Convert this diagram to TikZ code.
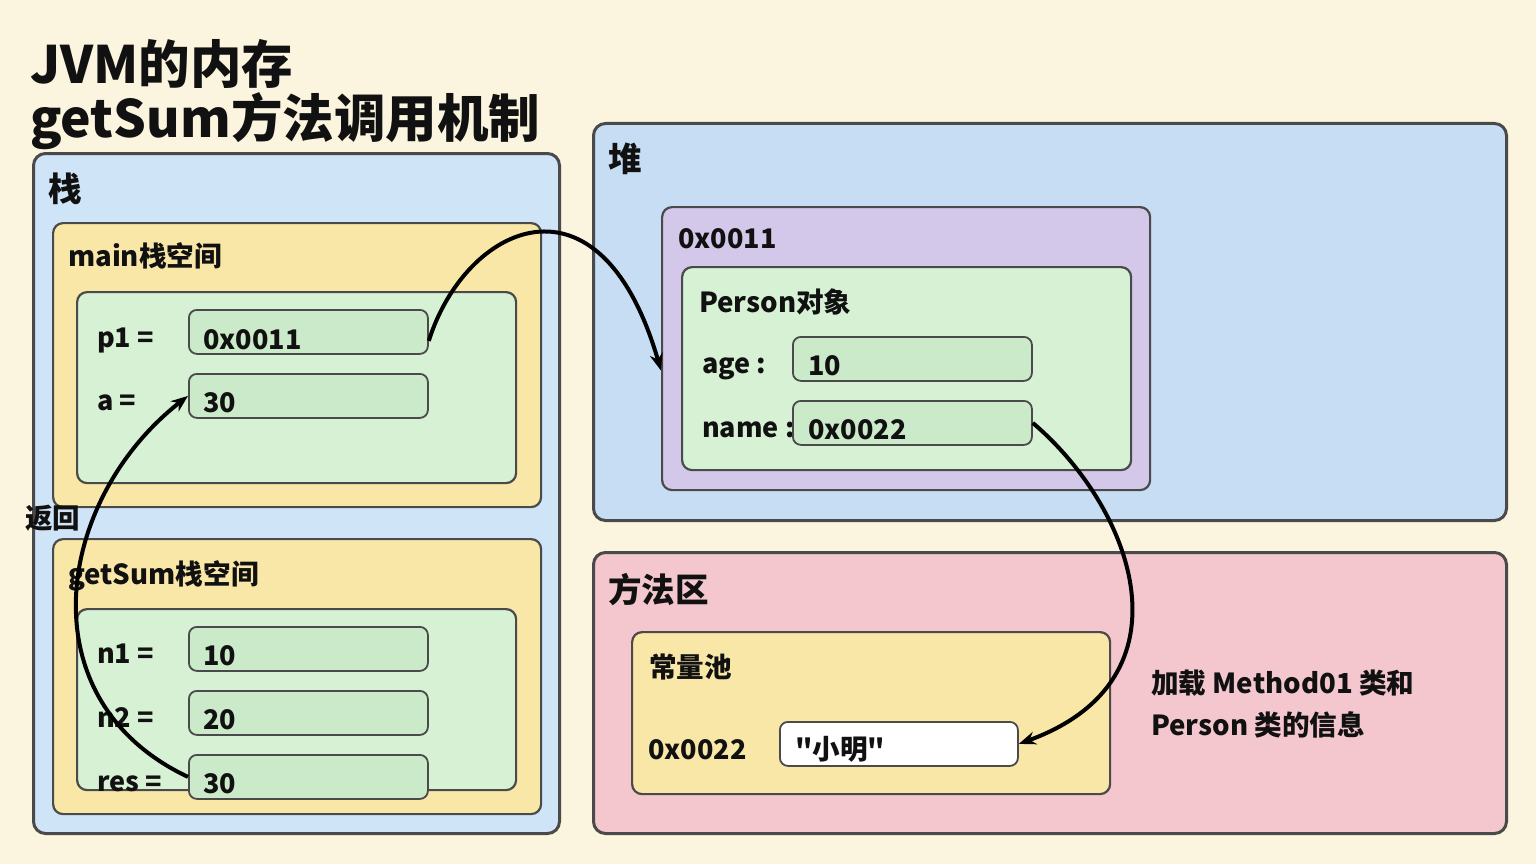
\documentclass[tikz,border=0pt]{standalone}
\usepackage{fontspec}
\setmainfont{Noto Sans CJK SC}[Ligatures=TeXOff]
\usetikzlibrary{arrows.meta}
\definecolor{bgc}{HTML}{FBF4DE}
\definecolor{linec}{HTML}{4A4A4A}
\definecolor{stackc}{HTML}{CFE4F7}
\definecolor{heapc}{HTML}{C6DDF4}
\definecolor{yelc}{HTML}{F9E7A8}
\definecolor{grnc}{HTML}{D7F1D4}
\definecolor{fldc}{HTML}{CBEACA}
\definecolor{purc}{HTML}{D4C8EA}
\definecolor{pinkc}{HTML}{F4C7CF}
\definecolor{txtc}{HTML}{111111}
\newcommand{\fsz}[1]{\fontsize{#1}{#1}\selectfont\bfseries}
\tikzset{
  x=1pt,y=-1pt,
  panel/.style={draw=linec, line width=3pt, rounded corners=12pt, anchor=north west, inner sep=0pt},
  sub/.style={draw=linec, line width=2.2pt, rounded corners=10pt, anchor=north west, inner sep=0pt},
  fld/.style={draw=linec, line width=1.8pt, rounded corners=8pt, anchor=north west, inner sep=0pt, fill=fldc, minimum width=239pt, minimum height=44pt},
  lbl/.style={anchor=base west, inner sep=0pt, text=txtc, font=\fsz{27}},
  clbl/.style={anchor=base west, inner sep=0pt, text=txtc, font=\fsz{27.6}},
  big/.style={anchor=base west, inner sep=0pt, text=txtc, font=\fsz{33.5}},
  conn/.style={line width=4pt, draw=black, -{Stealth[length=17pt,width=13pt]}}
}
\begin{document}
\begin{tikzpicture}
\useasboundingbox (0,0) rectangle (1536,864);
\fill[bgc] (0,0) rectangle (1536,864);
% title
\node[anchor=base west, inner sep=0pt, text=txtc, font=\fsz{51.5}] (t1) at (30,84) {JVM的内存};
\node[anchor=base west, inner sep=0pt, text=txtc, font=\fsz{51.5}] (t2) at (30,138) {getSum方法调用机制};
% stack
\node[panel, fill=stackc, minimum width=526pt, minimum height=680pt] (stack) at (32,152) {};
\node[big] (stacklbl) at (48,201) {栈};
\node[sub, fill=yelc, minimum width=488pt, minimum height=284pt] (mainsp) at (52,222) {};
\node[clbl] (mainlbl) at (68,266) {main栈空间};
\node[sub, fill=grnc, minimum width=439pt, minimum height=191pt] (maingr) at (76,291) {};
\node[lbl] (p1l) at (97,347) {p1 =};
\node[fld] (p1v) at (188,309) {};
\node[lbl] (p1t) at (203,349) {0x0011};
\node[lbl] (al) at (97,410) {a =};
\node[fld] (av) at (188,373) {};
\node[lbl] (at) at (203,412) {30};
\node[sub, fill=yelc, minimum width=488pt, minimum height=275pt] (gssp) at (52,538) {};
\node[clbl] (gslbl) at (68,584) {getSum栈空间};
\node[sub, fill=grnc, minimum width=439pt, minimum height=181pt] (gsgr) at (76,608) {};
\node[lbl] (n1l) at (97,663) {n1 =};
\node[fld] (n1v) at (188,626) {};
\node[lbl] (n1t) at (203,665) {10};
\node[lbl] (n2l) at (97,727) {n2 =};
\node[fld] (n2v) at (188,690) {};
\node[lbl] (n2t) at (203,729) {20};
\node[lbl] (resl) at (97,791) {res =};
\node[fld] (resv) at (188,754) {};
\node[lbl] (rest) at (203,793) {30};
\node[lbl, font=\fsz{27.5}] (ret) at (25,528) {返回};
% heap
\node[panel, fill=heapc, minimum width=913pt, minimum height=397pt] (heap) at (592,122) {};
\node[big] (heaplbl) at (608,171) {堆};
\node[sub, fill=purc, minimum width=488pt, minimum height=283pt] (obj) at (661,206) {};
\node[lbl] (objlbl) at (678,248) {0x0011};
\node[sub, fill=grnc, minimum width=449pt, minimum height=203pt] (pers) at (681,266) {};
\node[clbl] (perslbl) at (699,312) {Person对象};
\node[lbl] (agel) at (702,373) {age :};
\node[fld] (agev) at (792,336) {};
\node[lbl] (aget) at (808,375) {10};
\node[lbl] (namel) at (702,437) {name :};
\node[fld] (namev) at (792,400) {};
\node[lbl] (namet) at (808,439) {0x0022};
% method area
\node[panel, fill=pinkc, minimum width=913pt, minimum height=281pt] (meth) at (592,551) {};
\node[big] (methlbl) at (608,602) {方法区};
\node[sub, fill=yelc, minimum width=478pt, minimum height=162pt] (pool) at (631,631) {};
\node[clbl] (poollbl) at (649,677) {常量池};
\node[lbl] (addrl) at (648,759) {0x0022};
\node[fld, fill=white, minimum width=238pt] (strv) at (779,721) {};
\node[clbl] (strt) at (795,759) {"小明"};
\node[clbl] (info1) at (1151,693) {加载 Method01 类和};
\node[clbl] (info2) at (1151,735) {Person 类的信息};
% connectors
\draw[conn] ([yshift=-9pt]p1v.east) .. controls (465,225) and (600,160) .. ([yshift=-22pt]obj.west);
\draw[conn] (namev.east) .. controls (1135,510) and (1195,680) .. (strv.east);
\draw[conn] (resv.west) .. controls (25,700) and (55,500) .. (av.west);
\end{tikzpicture}
\end{document}
